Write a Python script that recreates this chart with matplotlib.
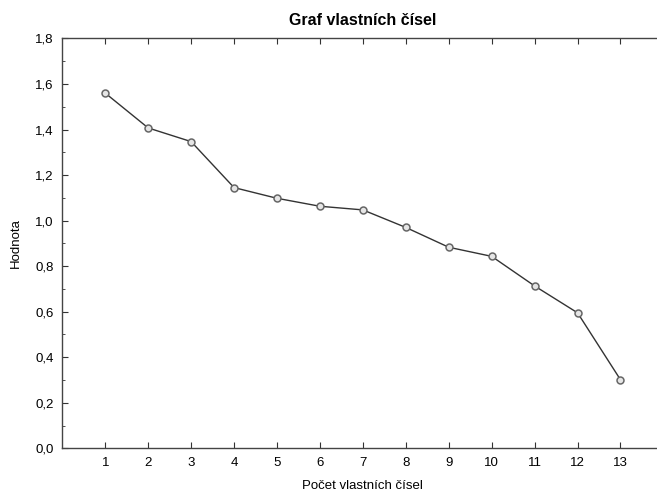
# Scree plot of eigenvalues (Graf vlastních čísel)

import matplotlib
matplotlib.use("Agg")
from matplotlib import pyplot as plt
from matplotlib.ticker import MultipleLocator, FuncFormatter

plt.rcParams['font.family'] = ['Liberation Sans', 'DejaVu Sans']

# data
poradi = list(range(1, 14))
hodnoty = [1.560, 1.407, 1.347, 1.145, 1.098, 1.063, 1.047,
           0.970, 0.883, 0.843, 0.713, 0.595, 0.301]
y_ticks = [0.0, 0.2, 0.4, 0.6, 0.8, 1.0, 1.2, 1.4, 1.6, 1.8]

fig = plt.figure(figsize=(6.57, 4.98), dpi=100)
ax = fig.add_axes([0.0948, 0.0998, 0.915, 0.823])

ax.plot(poradi, hodnoty, color="#333333", linewidth=1.0,
        marker="o", markersize=5, markerfacecolor="#e6e6e6",
        markeredgecolor="#666666", markeredgewidth=1.1)

ax.set_xlim(0, 14)
ax.set_ylim(0, 1.8)
ax.set_xticks(poradi)
ax.set_yticks(y_ticks)
ax.yaxis.set_minor_locator(MultipleLocator(0.1))
ax.yaxis.set_major_formatter(FuncFormatter(lambda v, p: f"{v:.1f}".replace(".", ",")))

# inward ticks on all sides, labels only left and bottom
ax.tick_params(axis="both", which="both", direction="in", top=True, right=True,
               labelsize=9.5, color="#333333", pad=6)
ax.tick_params(axis="both", which="major", length=4)
ax.tick_params(axis="y", which="minor", length=2.5)

for s in ax.spines.values():
    s.set_color("#444444")
    s.set_linewidth(1.0)

ax.set_title("Graf vlastních čísel", fontsize=11.5, fontweight="bold", pad=10)
ax.set_xlabel("Počet vlastních čísel", fontsize=9.5, labelpad=8)
ax.set_ylabel("Hodnota", fontsize=9.5, labelpad=10)

fig.savefig("out.png", dpi=100)
